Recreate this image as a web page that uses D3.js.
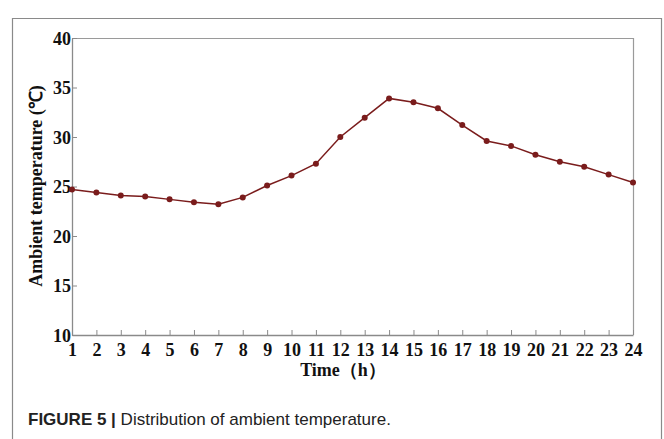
<!DOCTYPE html>
<html><head><meta charset="utf-8">
<script src="https://cdn.jsdelivr.net/npm/d3@7"></script>
<style>
body{margin:0;background:#fff;}
svg{display:block;}
</style></head>
<body>
<svg id="c" width="664" height="439"></svg>
<script>
const hours = d3.range(1, 25);
const temps = [24.7, 24.4, 24.1, 24.0, 23.7, 23.4, 23.2, 23.9, 25.1, 26.1, 27.3, 30.0,
               31.95, 33.9, 33.5, 32.9, 31.2, 29.6, 29.1, 28.2, 27.5, 27.0, 26.2, 25.4];
const yTicks = [10, 15, 20, 25, 30, 35, 40];
const xTitle = "Time（h）";
const yTitle = "Ambient temperature (℃)";
const caption = ["FIGURE 5 | ", "Distribution of ambient temperature."];

const svg = d3.select("#c");
const L = 72, R = 633, T = 38, B = 335;
const x = d3.scaleLinear().domain([1, 24]).range([L, R]);
const y = d3.scaleLinear().domain([10, 40]).range([B, T]);
const serif = "'Liberation Serif','Times New Roman',serif";

// outer frame
svg.append("path").attr("d", `M12.5,439 V18.5 H661.5 V439`)
  .attr("fill", "none").attr("stroke", "#8a8a8a").attr("stroke-width", 1.2);

// plot frame (top/right)
svg.append("path").attr("d", `M${L},${T+0.5} H${R+0.5} V${B}`)
  .attr("fill", "none").attr("stroke", "#9a9a9a").attr("stroke-width", 1.2);

// x axis
const gx = svg.append("g").attr("transform", `translate(0,${B})`)
  .call(d3.axisBottom(x).tickValues(hours).tickFormat(d3.format("d")).tickSizeInner(-5).tickSizeOuter(0).tickPadding(0));
gx.select(".domain").attr("stroke", "#8a8a8a").attr("stroke-width", 1.3);
gx.selectAll(".tick line").attr("stroke", "#8a8a8a");
gx.selectAll(".tick text").attr("y", 21).attr("dy", null)
  .attr("font-family", serif).attr("font-weight", "bold").attr("font-size", 18).attr("fill", "#111");

// y axis
const gy = svg.append("g").attr("transform", `translate(${L},0)`)
  .call(d3.axisLeft(y).tickValues(yTicks).tickFormat(d3.format("d")).tickSizeInner(-5).tickSizeOuter(0).tickPadding(0));
gy.select(".domain").attr("stroke", "#8a8a8a").attr("stroke-width", 1.3);
gy.selectAll(".tick line").attr("stroke", "#8a8a8a");
gy.selectAll(".tick text").attr("x", -1).attr("dy", null).attr("y", 6)
  .attr("font-family", serif).attr("font-weight", "bold").attr("font-size", 18).attr("fill", "#111");

// line
const data = hours.map((h, i) => ({h, v: temps[i]}));
svg.append("path").datum(data)
  .attr("fill", "none").attr("stroke", "#7a1c1c").attr("stroke-width", 1.5)
  .attr("d", d3.line().x(d => x(d.h)).y(d => y(d.v)));
svg.selectAll("circle.pt").data(data).join("circle")
  .attr("class", "pt").attr("cx", d => x(d.h)).attr("cy", d => y(d.v)).attr("r", 3)
  .attr("fill", "#7a1c1c");

// axis titles
svg.append("text").attr("x", 343).attr("y", 376).attr("text-anchor", "middle")
  .attr("font-family", serif).attr("font-weight", "bold").attr("font-size", 18).attr("fill", "#111")
  .text(xTitle);
svg.append("text").attr("transform", "translate(42,186) rotate(-90)").attr("text-anchor", "middle")
  .attr("font-family", serif).attr("font-weight", "bold").attr("font-size", 18).attr("fill", "#111")
  .text(yTitle);

// caption
const cap = svg.append("text").attr("x", 28).attr("y", 425)
  .attr("font-family", "'Liberation Sans',Arial,sans-serif").attr("font-size", 17).attr("fill", "#222");
cap.append("tspan").attr("font-weight", "bold").text(caption[0]);
cap.append("tspan").text(caption[1]);
</script>
</body></html>
